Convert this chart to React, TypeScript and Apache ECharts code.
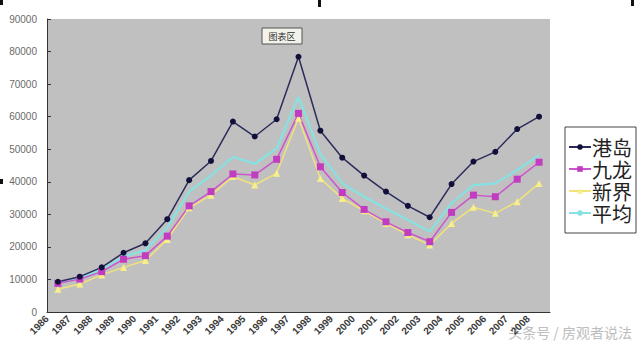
import React, { useEffect, useRef } from "react";
import * as echarts from "echarts";

const years = ["1986","1987","1988","1989","1990","1991","1992","1993","1994","1995","1996","1997","1998","1999","2000","2001","2002","2003","2004","2005","2006","2007","2008"];
const hkIsland = [9300,10850,13700,18200,21100,28500,40500,46400,58500,53900,59200,78400,55700,47400,41900,37000,32600,29100,39300,46200,49200,56200,60000];
const kowloon = [8800,10100,12400,16200,17300,23300,32600,37000,42400,42100,46900,61000,44600,36700,31500,27700,24400,21600,30600,35900,35400,40800,46000];
const newTerritories = [7000,8600,11400,13700,15800,22300,32000,35900,41600,39000,42600,59500,41000,34900,31100,27200,23700,20600,27200,32200,30300,33900,39500];
const average = [9000,10400,13000,17000,19000,26000,37000,42000,47600,45500,50300,66100,48500,39500,35400,31800,28300,24700,33400,39000,39500,43600,48200];
const seriesNames = ["港岛", "九龙", "新界", "平均"];
const yTicks = { min: 0, max: 90000, interval: 10000 };

export default function App() {
  const ref = useRef<HTMLDivElement>(null);
  useEffect(() => {
    if (!ref.current) return;
    const chart = echarts.init(ref.current, null, { renderer: "svg" });
    const mkLine = (name: string, data: number[], color: string, symbol: string, size: number, mColor: string, width: number) => ({
      name,
      type: "line",
      data,
      xAxisIndex: 0,
      symbol,
      symbolSize: size,
      showSymbol: symbol !== "none",
      lineStyle: { color, width },
      itemStyle: { color: mColor, borderColor: mColor, borderWidth: 0 },
    });
    chart.setOption({
      animation: false,
      backgroundColor: "#ffffff",
      grid: { left: 47, right: 90, top: 19, bottom: 33, show: true, backgroundColor: "#c0c0c0", borderWidth: 0 },
      legend: {
        orient: "vertical",
        left: 565,
        top: 127,
        width: 72,
        padding: [9, 4, 9, 3],
        itemGap: 0,
        itemWidth: 22,
        itemHeight: 7,
        backgroundColor: "#ffffff",
        borderColor: "#444",
        borderWidth: 1,
        textStyle: { fontSize: 20, lineHeight: 22, height: 22, fontFamily: "Noto Sans CJK SC", color: "#222", padding: [0, 0, 0, -4] },
        data: seriesNames,
      },
      xAxis: [
        {
          type: "category",
          data: years,
          boundaryGap: true,
          axisLine: { lineStyle: { color: "#333", width: 1 } },
          axisTick: { inside: true, length: 4, lineStyle: { color: "#333" } },
          axisLabel: { show: false },
          splitLine: { show: false },
        },
        {
          type: "category",
          data: [...years, ""],
          boundaryGap: false,
          position: "bottom",
          axisLine: { show: false },
          axisTick: { show: false },
          axisLabel: { rotate: 45, interval: 0, margin: 5, fontSize: 10, fontWeight: "bold", color: "#3a3a3a", fontFamily: "Liberation Sans" },
          splitLine: { show: false },
        },
      ],
      yAxis: {
        type: "value",
        min: yTicks.min,
        max: yTicks.max,
        interval: yTicks.interval,
        axisLine: { show: true, lineStyle: { color: "#333", width: 1 } },
        axisTick: { show: true, inside: true, length: 4, lineStyle: { color: "#333" } },
        axisLabel: { fontSize: 10, color: "#6a6a6a", margin: 10, fontFamily: "Liberation Sans", padding: [0, 0, 5, 0], formatter: (v: number) => String(v) },
        splitLine: { show: false },
      },
      series: [
        mkLine(seriesNames[3], average, "#86e2e2", "none", 4, "#86e2e2", 2.2),
        mkLine(seriesNames[2], newTerritories, "#f2e27a", "triangle", 7, "#f7ef8a", 1.5),
        mkLine(seriesNames[1], kowloon, "#cc55cc", "rect", 7, "#c23cc2", 1.5),
        mkLine(seriesNames[0], hkIsland, "#2c2c5c", "circle", 6, "#10103a", 1.5),
      ],
      graphic: [
        { type: "rect", shape: { x: 262, y: 28, width: 40, height: 16 }, style: { fill: "#f2f2ea", stroke: "#555", lineWidth: 1 } },
        { type: "text", x: 282, y: 36, style: { text: "图表区", fontSize: 9, fill: "#333", align: "center", verticalAlign: "middle", fontFamily: "Noto Sans CJK SC" } },
        { type: "text", x: 632, y: 332, style: { text: "头条号 / 房观者说法", fontSize: 14, fill: "#bdbdbd", align: "right", verticalAlign: "middle", fontFamily: "Noto Sans CJK SC" } },
        { type: "rect", shape: { x: 0, y: 0, width: 3, height: 5 }, style: { fill: "#111" } },
        { type: "rect", shape: { x: 318, y: 0, width: 3, height: 7 }, style: { fill: "#111" } },
        { type: "rect", shape: { x: 631, y: 0, width: 3, height: 6 }, style: { fill: "#111" } },
        { type: "rect", shape: { x: 0, y: 179, width: 3, height: 5 }, style: { fill: "#111" } },
      ],
    });
    return () => chart.dispose();
  }, []);
  return <div ref={ref} style={{ position: "fixed", left: 0, top: 0, width: 640, height: 345 }} />;
}
